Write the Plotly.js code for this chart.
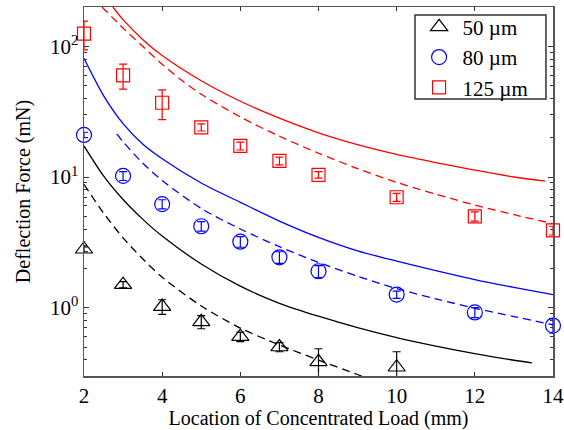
<!DOCTYPE html>
<html><head><meta charset="utf-8">
<script src="https://cdn.plot.ly/plotly-3.0.1.min.js"></script>
<style>body{margin:0;background:#fff}#c{width:564px;height:430px}</style>
</head><body><div id="c"></div>
<script>
// Measured data
const x50 = [2,3,4,5,6,7,8,10];
const y50 = [2.8,1.5,1.02,0.78,0.6,0.5,0.385,0.35];
const e50 = [0.12,0.08,0.13,0.09,0.05,0.04,0.1,0.11];

const x80 = [2,3,4,5,6,7,8,10,12,14];
const y80 = [21,10.2,6.2,4.2,3.2,2.43,1.9,1.26,0.92,0.73];
const e80 = [1.0,0.8,0.5,0.35,0.3,0.25,0.2,0.08,0.08,0.09];

const x125 = [2,3,4,5,6,7,8,10,12,14];
const y125 = [125,60,37,24,17.3,13.3,10.4,7.0,5.0,3.9];
const e125 = [31,13,9.5,1.5,1.2,0.9,0.6,0.5,0.4,0.3];

// Model curves (solid and dashed)
const xRedSolid = [2.74,3,3.5,4,5,6,7,8,9,10,11,12,13,13.8];
const yRedSolid = [200,160,113,85,54.5,38,28.2,21.8,17.7,14.9,12.9,11.3,10.0,9.3];
const xRedDash = [2.46,3,3.5,4,4.5,5,6,7,8,9,10,11,12,13,14];
const yRedDash = [200,138,100,73,55,43,28.8,20.5,15.2,11.6,9.1,7.4,6.1,5.15,4.4];
const xBlueSolid = [2,2.5,3,3.5,4,5,6,7,8,9,10,11,12,13,14];
const yBlueSolid = [81,42,25.6,17.9,13.8,9.0,6.4,4.6,3.45,2.72,2.27,1.92,1.64,1.43,1.26];
const xBlueDash = [2.84,3,3.5,4,5,6,7,8,9,10,11,12,13,14];
const yBlueDash = [21.4,18.6,12.8,9.4,5.75,4.0,2.93,2.22,1.74,1.4,1.17,0.99,0.855,0.74];
const xBlackSolid = [2,2.5,3,3.5,4,5,6,7,8,9,10,11,12,13,13.46];
const yBlackSolid = [17.3,10.2,6.73,4.76,3.53,2.16,1.46,1.08,0.86,0.703,0.59,0.508,0.445,0.396,0.378];
const xBlackDash = [2,2.5,3,3.5,4,5,6,7,8,9,9.2];
const yBlackDash = [8.8,5.3,3.42,2.37,1.71,1.03,0.698,0.518,0.397,0.308,0.292];

const legendNames = ['50 \u00b5m','80 \u00b5m','125 \u00b5m'];
const yTickVals = [1,10,100];
const yTickText = ['10<sup>0</sup>','10<sup>1</sup>','10<sup>2</sup>'];
const xTickVals = [2,4,6,8,10,12,14];

const RED='#ff0000', BLUE='#0000ff', BLACK='#000000';
const DASH='8px,5px';
function line(x,y,c,d){return {x:x,y:y,mode:'lines',type:'scatter',showlegend:false,hoverinfo:'skip',
  line:{color:c,width:1.3,dash:d?DASH:'solid',shape:'spline',smoothing:0.8}};}
function pts(x,y,e,c,sym,name,size){return {x:x,y:y,mode:'markers',type:'scatter',name:name,cliponaxis:false,
  marker:{symbol:sym,size:size,color:c,line:{color:c,width:1.2}},
  error_y:{type:'data',array:e,visible:true,color:c,thickness:1.2,width:4}};}

const data = [
  line(xRedSolid,yRedSolid,RED,false), line(xRedDash,yRedDash,RED,true),
  line(xBlueSolid,yBlueSolid,BLUE,false), line(xBlueDash,yBlueDash,BLUE,true),
  line(xBlackSolid,yBlackSolid,BLACK,false), line(xBlackDash,yBlackDash,BLACK,true),
  pts(x50,y50,e50,BLACK,'triangle-up-open',legendNames[0],15),
  pts(x80,y80,e80,BLUE,'circle-open',legendNames[1],15),
  pts(x125,y125,e125,RED,'square-open',legendNames[2],13)
];

const minorVals = [];
[0.1,1,10,100].forEach(d=>{for(let k=2;k<=9;k++) minorVals.push(k*d);});

const FAM = 'Liberation Serif';
const FONT = {family:FAM, size:20, color:'#000'};
const TICKFONT = {family:FAM, size:21, color:'#000'};
const layout = {
  width:564, height:430,
  margin:{l:84,r:11,t:7,b:54},
  paper_bgcolor:'#fff', plot_bgcolor:'#fff',
  font:FONT,
  showlegend:true,
  legend:{x:0.707,y:1.001,xanchor:'left',yanchor:'top',bgcolor:'rgba(0,0,0,0)',borderwidth:0,
    font:{family:FAM,size:21,color:'#000'},tracegroupgap:0,itemwidth:37},
  shapes:[{type:'rect',xref:'paper',yref:'paper',x0:0.7058,x1:0.985,y0:0.7507,y1:0.9783,
    line:{color:'#333',width:1.5},fillcolor:'#fff',layer:'below'}],
  xaxis:{range:[2,14],tickvals:xTickVals,ticks:'inside',ticklen:4,tickcolor:'#333',
    showline:true,linecolor:'#555',linewidth:1.5,mirror:'ticks',showgrid:false,zeroline:false,
    tickfont:TICKFONT,title:{text:'Location of Concentrated Load (mm)',font:FONT,standoff:0}},
  yaxis:{type:'log',range:[Math.log10(0.3),Math.log10(200)],tickvals:yTickVals,ticktext:yTickText,
    ticks:'inside',ticklen:5,tickcolor:'#333',showline:true,linecolor:'#555',linewidth:1.5,mirror:'ticks',
    showgrid:false,zeroline:false,tickfont:TICKFONT,
    minor:{tickvals:minorVals,ticks:'inside',ticklen:3,tickcolor:'#333',showgrid:false},
    title:{text:'Deflection Force (mN)',font:FONT,standoff:14}}
};
Plotly.newPlot('c',data,layout,{displayModeBar:false,staticPlot:true});
</script></body></html>
